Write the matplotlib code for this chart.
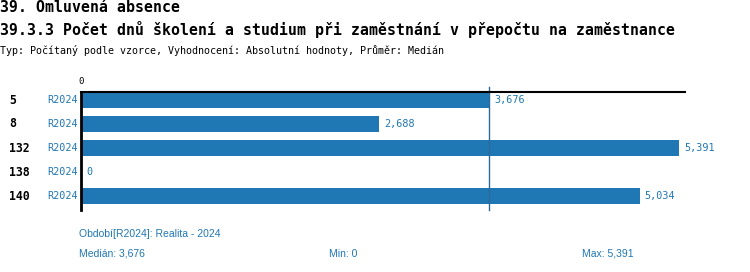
import numpy as np
import matplotlib.pyplot as plt

rows = ['5', '8', '132', '138', '140']
period = ['R2024', 'R2024', 'R2024', 'R2024', 'R2024']
values = [3676, 2688, 5391, 0, 5034]
median = 3676
vmin = 0
vmax = 5391

blue = '#1f77b4'
mono = 'DejaVu Sans Mono'

fig = plt.figure(figsize=(7.5, 2.72), dpi=100)
ax = fig.add_axes([81 / 750, 1 - 210 / 272, 604 / 750, 118 / 272])

y = np.arange(len(rows))
ax.barh(y, values, height=0.67, color=blue)
ax.set_xlim(0, 5442)
ax.set_ylim(4.58, -0.33)

for i, v in enumerate(values):
    ax.text(v + 45, i, f'{v:,}', color=blue, family=mono, fontsize=7.3, va='center', ha='left')
    ax.text(-0.006, i, period[i], color=blue, family=mono, fontsize=7.3, va='center', ha='right',
            transform=ax.get_yaxis_transform())
    fig.text(9 / 750, 1 - (100 + 24 * i) / 272, rows[i], color='black', family=mono,
             fontsize=8.3, fontweight='bold', va='center', ha='left')

ax.axvline(median, ymin=0, ymax=1.04, color='#2b6a9a', lw=1, clip_on=False)

for s in ['right', 'bottom']:
    ax.spines[s].set_visible(False)
ax.spines['left'].set_linewidth(2)
ax.spines['top'].set_linewidth(1.5)
ax.set_yticks([])
ax.xaxis.tick_top()
ax.set_xticks([0])
ax.set_xticklabels(['0'], family=mono, fontsize=6.5)
ax.tick_params(axis='x', length=0, pad=4)

fig.text(0, 1 - 8 / 272, '39. Omluvená absence', family=mono, fontsize=10.7,
         fontweight='bold', va='center', ha='left')
fig.text(0, 1 - 30 / 272, '39.3.3 Počet dnů školení a studium při zaměstnání v přepočtu na zaměstnance',
         family=mono, fontsize=10.7, fontweight='bold', va='center', ha='left')
fig.text(0, 1 - 50 / 272, 'Typ: Počítaný podle vzorce, Vyhodnocení: Absolutní hodnoty, Průměr: Medián',
         family=mono, fontsize=7.2, va='center', ha='left')

foot = ['Liberation Sans Narrow', 'Liberation Sans', 'DejaVu Sans']
fig.text(79 / 750, 1 - 234 / 272, 'Období[R2024]: Realita - 2024', color=blue, family=foot,
         fontsize=7.5, va='center', ha='left')
fig.text(79 / 750, 1 - 254 / 272, f'Medián: {median:,}', color=blue, family=foot,
         fontsize=7.5, va='center', ha='left')
fig.text(329 / 750, 1 - 254 / 272, f'Min: {vmin:,}', color=blue, family=foot,
         fontsize=7.5, va='center', ha='left')
fig.text(582 / 750, 1 - 254 / 272, f'Max: {vmax:,}', color=blue, family=foot,
         fontsize=7.5, va='center', ha='left')

fig.savefig('out.png', dpi=100)
